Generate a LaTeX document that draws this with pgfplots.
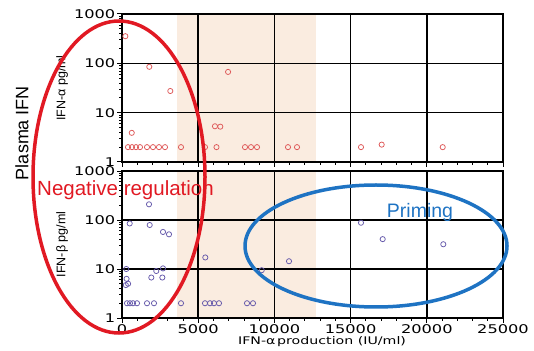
\documentclass[border=0pt]{standalone}
\usepackage{pgfplots}
\pgfplotsset{compat=1.18}
\usepackage{fontspec}
\setmainfont{Liberation Sans}
\newfontfamily\tickfont{DejaVu Sans}[FakeStretch=1.35]
\definecolor{peach}{RGB}{250,236,224}
\definecolor{redpt}{RGB}{222,88,88}
\definecolor{bluept}{RGB}{100,88,170}
\definecolor{redell}{RGB}{225,25,35}
\definecolor{blueell}{RGB}{30,115,195}
\begin{document}
\begin{tikzpicture}
\useasboundingbox (0,0) rectangle (534pt,350pt);
% top axis
\begin{axis}[scale only axis, width=381pt, height=148pt, at={(122pt,188pt)}, anchor=south west,
  xmin=0, xmax=25000, ymode=log, ymin=1, ymax=1000,
  xtick={0,5000,10000,15000,20000,25000}, minor x tick num=4, scaled x ticks=false,
  ytick={1,10,100,1000}, yticklabels={1,10,100,1000},
  minor ytick={2,3,4,5,6,7,8,9,20,30,40,50,60,70,80,90,200,300,400,500,600,700,800,900},
  xmajorgrids, ymajorgrids, major grid style={black, line width=1.6pt},
  axis line style={line width=1.9pt},
  major tick style={black, line width=1pt}, minor tick style={black, line width=0.8pt},
  major tick length=5pt, minor tick length=3pt,
  tick align=outside, tick pos=left,
  axis on top,
  ticklabel style={font=\fontsize{12}{13}\tickfont, inner sep=1.5pt},
  /pgf/number format/assume math mode=true,
  xticklabels={},
  ylabel={IFN-α pg/ml},
  ylabel style={at={(axis description cs:-0.157,0.5)}, anchor=center, font=\fontsize{12.5}{13}\selectfont}]
\fill[peach] (axis cs:3600,1) rectangle (axis cs:12700,1000);
\addplot[only marks, mark=o, mark size=2.6pt, color=redpt, mark options={line width=0.75pt}] coordinates {
(220,355) (1790,85) (3170,27.5) (6960,67) (640,3.9) (6100,5.3) (6450,5.2)
(394,2) (656,2) (919,2) (1181,2) (1640,2) (2034,2) (2428,2) (2822,2) (3871,2)
(5446,2) (6200,2) (8071,2) (8465,2) (8858,2) (10892,2) (11483,2)
(15682,2) (17040,2.25) (21043,2)
};
\end{axis}
% bottom axis
\begin{axis}[scale only axis, width=381pt, height=147pt, at={(122pt,32pt)}, anchor=south west,
  xmin=0, xmax=25000, ymode=log, ymin=1, ymax=1000,
  xtick={0,5000,10000,15000,20000,25000}, minor x tick num=4, scaled x ticks=false,
  ytick={1,10,100,1000}, yticklabels={1,10,100,1000},
  minor ytick={2,3,4,5,6,7,8,9,20,30,40,50,60,70,80,90,200,300,400,500,600,700,800,900},
  xmajorgrids, ymajorgrids, major grid style={black, line width=1.6pt},
  axis line style={line width=1.9pt},
  major tick style={black, line width=1pt}, minor tick style={black, line width=0.8pt},
  major tick length=5pt, minor tick length=3pt,
  tick align=outside, tick pos=left,
  axis on top,
  ticklabel style={font=\fontsize{12}{13}\tickfont, inner sep=1.5pt},
  /pgf/number format/assume math mode=true,
  xticklabels={0,5000,10000,15000,20000,25000},
  ylabel={IFN-β pg/ml},
  ylabel style={at={(axis description cs:-0.157,0.5)}, anchor=center, font=\fontsize{12.5}{13}\selectfont},
  xlabel={IFN-α\,production (IU/ml)},
  xlabel style={font=\fontsize{10.5}{12}\tickfont, at={(axis description cs:0.525,0)}, anchor=center, yshift=-24pt}]
\fill[peach] (axis cs:3600,1) rectangle (axis cs:12700,1000);
\addplot[only marks, mark=o, mark size=2.6pt, color=bluept, mark options={line width=0.75pt}] coordinates {
(1772,209) (505,85) (1817,79) (2690,57) (3084,51) (5466,17.2) (282,10) (2250,9.1)
(2690,10.3) (300,6.3) (400,5.0) (250,4.7) (1923,6.7) (2647,6.7) (9167,9.45)
(10958,14.4) (15682,88) (17105,40.7) (21083,32)
(328,2) (525,2) (722,2) (984,2) (1640,2) (2100,2) (3871,2) (5446,2) (5774,2)
(6037,2) (6365,2) (8202,2) (8596,2)
};
\end{axis}
% annotations
\node[rotate=90, font=\fontsize{18}{20}\selectfont] at (22pt,217pt) {Plasma IFN};
\draw[redell, line width=3.5pt] (119pt,173pt) ellipse [x radius=86pt, y radius=156pt];
\draw[blueell, line width=3.5pt] (376pt,104pt) ellipse [x radius=131pt, y radius=61pt];
\node[anchor=west, inner sep=0pt, text=redell, font=\fontsize{20.5}{22}\selectfont] at (37pt,160pt) {Negative regulation};
\node[inner sep=0pt, text=blueell, font=\fontsize{19.5}{22}\selectfont] at (420pt,138pt) {Priming};
\end{tikzpicture}
\end{document}
